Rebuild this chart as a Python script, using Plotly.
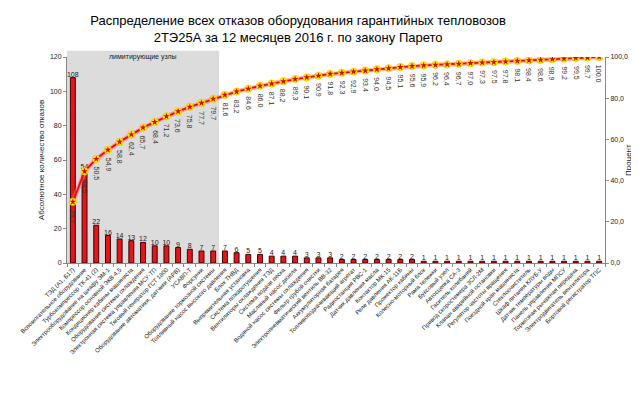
import plotly.graph_objects as go

categories = [
    "ТЭД (А1, Б17)",
    "Вспомогательное оборудование",
    "Турбокомпрессор ТК-41 (2)",
    "Электрооборудование на шкафу ЭМ-1",
    "Компрессор основной ЭКВ-4,5",
    "Кондиционер кабины машиниста",
    "Оборудование системы охлаждения",
    "Электронная система управления МСУ-ТП",
    "Тяговый генератор ГСТ 1800",
    "Оборудование автоматики, датчики (АРВ)",
    "УСАВП-Т",
    "Форсунки",
    "Оборудование тормозной системы",
    "Топливный насос высокого давления",
    "Блок ТНВД",
    "Выпрямительная установка",
    "Система пожаротушения",
    "Вентиляторы охлаждения ТЭД",
    "Система подачи песка",
    "Масляный насос дизеля",
    "Водяной насос системы охлаждения",
    "Фильтр грубой очистки",
    "Электропневматический вентиль ВВ-32",
    "Аккумуляторная батарея",
    "Топливоподкачивающий агрегат",
    "Радиостанция РВС-1",
    "Датчик давления масла",
    "Контактор МК-15",
    "Реле давления АК-11Б",
    "Прожектор кабины",
    "Колесно-моторный блок",
    "Рама тележки",
    "Буксовый узел",
    "Автосцепка СА-3",
    "Гаситель колебаний",
    "Привод скоростемера 3СЛ-2М",
    "Клапан аварийной остановки",
    "Регулятор частоты вращения",
    "Поездной кран машиниста",
    "Стеклоочиститель",
    "Шкаф питания КЛУБ-У",
    "Датчик температуры воды",
    "Панель управления МПСУ",
    "Тормозная рычажная передача",
    "Электродвигатель вентилятора",
    "Бортовой регистратор ТПС",
]

failures = [108, 54, 22, 16, 14, 13, 12, 10, 10, 9, 8, 7, 7, 7, 6, 5, 5, 4, 4, 4,
            3, 3, 3, 2, 2, 2, 2, 2, 2, 2, 1, 1, 1, 1, 1, 1, 1, 1, 1, 1,
            1, 1, 1, 1, 1, 1]

cumulative = [29.7, 44.5, 50.5, 54.9, 58.8, 62.4, 65.7, 68.4, 71.2, 73.6,
              75.8, 77.7, 79.7, 81.6, 83.2, 84.6, 86.0, 87.1, 88.2, 89.3,
              90.1, 90.9, 91.8, 92.3, 92.9, 93.4, 94.0, 94.5, 95.1, 95.6,
              95.9, 96.2, 96.4, 96.7, 97.0, 97.3, 97.5, 97.8, 98.1, 98.4,
              98.6, 98.9, 99.2, 99.5, 99.7, 100.0]

limiting_count = 13
title_text = ("Распределение всех отказов оборудования гарантийных тепловозов<br>"
              "2ТЭ25А за 12 месяцев 2016 г. по закону Парето")

FONT = "Liberation Sans"
W, H = 639, 399
ML, MR, MT, MB = 42, 42, 49, 144

fig = go.Figure()

fig.add_trace(go.Bar(
    x=categories, y=failures, width=0.42,
    marker=dict(color="#e8141c", line=dict(color="#3a0000", width=1)),
    text=[str(v) for v in failures], textposition="outside",
    constraintext="none",
    textfont=dict(size=7, color="#202020", family=FONT),
    cliponaxis=False, showlegend=False,
))

fig.add_trace(go.Scatter(
    x=categories, y=cumulative, yaxis="y2", mode="lines",
    line=dict(color="rgba(255,120,120,0.55)", width=4.5),
    showlegend=False, hoverinfo="skip",
))
fig.add_trace(go.Scatter(
    x=categories, y=cumulative, yaxis="y2", mode="lines+markers",
    line=dict(color="#ff0000", width=1.8),
    marker=dict(symbol="circle", size=7.5, color="#ffe800",
                line=dict(color="#e0c000", width=0.5)),
    showlegend=False,
))
fig.add_trace(go.Scatter(
    x=categories, y=cumulative, yaxis="y2", mode="markers",
    marker=dict(symbol="star", size=5, color="#e00000"),
    showlegend=False, hoverinfo="skip",
))

annotations = []
for c, v in zip(categories, cumulative):
    s = f"{v:.1f}".replace(".", ",")
    annotations.append(dict(
        x=c, y=v, xref="x", yref="y2", text=s, textangle=90,
        showarrow=False, xanchor="center", yanchor="middle",
        yshift=-(6 + len(s) * 2.2),
        font=dict(size=7, color="#303030", family=FONT),
    ))

annotations.append(dict(
    x=(limiting_count - 1) / 2, y=1.0, xref="x", yref="paper",
    text="лимитирующие узлы", showarrow=False, yanchor="bottom", yshift=-6,
    font=dict(size=7, color="#202020", family=FONT),
))

annotations.append(dict(
    x=1.0, y=0.5, xref="paper", yref="paper", xshift=23,
    text="Процент", textangle=-90, showarrow=False,
    xanchor="center", yanchor="middle",
    font=dict(size=8, color="#202020", family=FONT),
))

fig.add_shape(type="rect", xref="x", yref="paper",
              x0=-0.5, x1=limiting_count - 0.5, y0=0, y1=1.03,
              fillcolor="#dcdcdc", line=dict(width=0), layer="below")

fig.update_layout(
    width=W, height=H,
    margin=dict(l=ML, r=MR, t=MT, b=MB),
    paper_bgcolor="white", plot_bgcolor="white",
    separators=", ",
    font=dict(family=FONT, color="#202020"),
    title=dict(text=title_text, x=0.454, xanchor="center",
               y=1 - 17 / H, yanchor="middle", yref="container",
               font=dict(size=13, color="black", family=FONT)),
    annotations=annotations,
    bargap=0.5,
    xaxis=dict(
        type="category", tickmode="array", tickvals=categories, ticktext=categories,
        tickangle=-45, tickfont=dict(size=6, color="#202020"),
        ticks="outside", tickson="boundaries", ticklen=3, tickcolor="#888",
        showline=True, linecolor="#888", linewidth=1, showgrid=False,
        range=[-0.5, len(categories) - 0.5],
    ),
    yaxis=dict(
        range=[0, 120], dtick=20, tickfont=dict(size=7),
        title=dict(text="Абсолютное количество отказов", font=dict(size=8), standoff=4),
        showline=True, linecolor="#888", ticks="outside", ticklen=3, tickcolor="#888",
        showgrid=False, zeroline=False,
    ),
    yaxis2=dict(
        range=[0, 100], dtick=20, tickformat=".1f", overlaying="y", side="right",
        tickfont=dict(size=7),
        showline=True, linecolor="#888", ticks="outside", ticklen=3, tickcolor="#888",
        showgrid=False, zeroline=False,
    ),
)

fig.write_html("out.html")
